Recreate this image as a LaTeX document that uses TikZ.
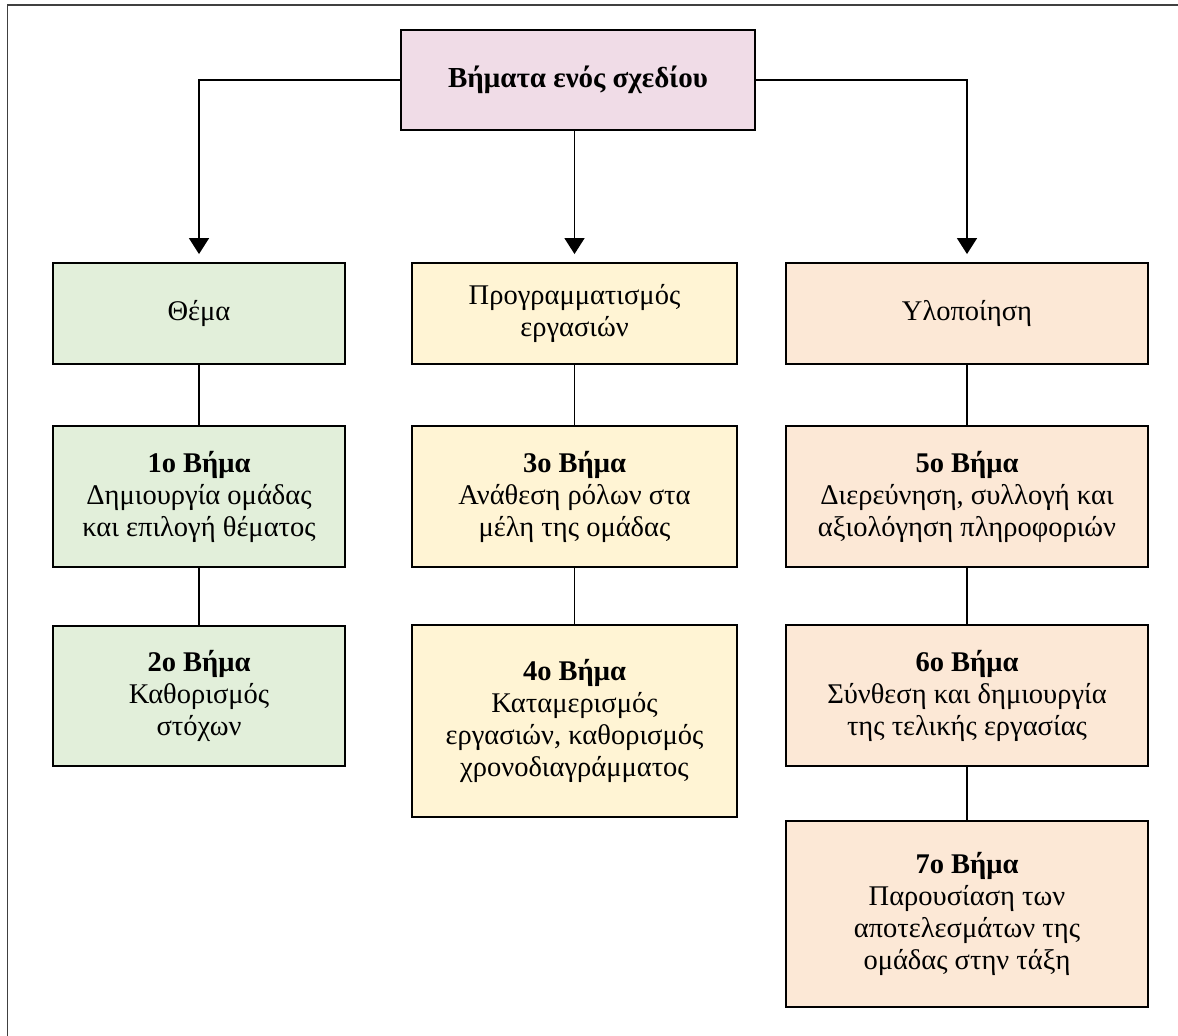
\documentclass[tikz,border=0pt]{standalone}
\usepackage{fontspec}
\setmainfont{Liberation Serif}
\usetikzlibrary{arrows.meta}
\definecolor{cpink}{HTML}{F0DCE7}
\definecolor{cgreen}{HTML}{E2EFDA}
\definecolor{cyellow}{HTML}{FFF4D4}
\definecolor{cpeach}{HTML}{FCE8D6}
\definecolor{frame}{HTML}{404040}
\tikzset{
  box/.style={draw=black, line width=1.9pt, rectangle, align=center, inner sep=2pt,
    font=\fontsize{28.5}{32}\selectfont},
  conn/.style={draw=black, line width=1.6pt},
  arr/.style={conn, -{Triangle[width=20pt,length=16pt]}, shorten >=8pt},
}
\begin{document}
\begin{tikzpicture}[x=1pt,y=-1pt]
\useasboundingbox (0,0) rectangle (1178,1036);
\clip (0,0) rectangle (1178,1036);
\fill[white] (0,0) rectangle (1178,1036);
\draw[frame, line width=1.6pt] (7.5,5) rectangle (1200,1060);
% top
\node[box, fill=cpink, minimum width=354pt, minimum height=100pt,
  font=\fontsize{29}{34}\selectfont\bfseries] (top) at (578,80) {Βήματα ενός σχεδίου};
% row 1
\node[box, fill=cgreen, minimum width=292pt, minimum height=101pt] (L1) at (199,313.5) {Θέμα};
\node[box, fill=cyellow, minimum width=325pt, minimum height=101pt] (M1) at (574.5,313.5) {Προγραμματισμός\\εργασιών};
\node[box, fill=cpeach, minimum width=362pt, minimum height=101pt] (R1) at (967,313.5) {Υλοποίηση};
% row 2
\node[box, fill=cgreen, minimum width=292pt, minimum height=141pt] (L2) at (199,496.5) {\textbf{1ο Βήμα}\\Δημιουργία ομάδας\\και επιλογή θέματος};
\node[box, fill=cyellow, minimum width=325pt, minimum height=141pt] (M2) at (574.5,496.5) {\textbf{3ο Βήμα}\\Ανάθεση ρόλων στα\\μέλη της ομάδας};
\node[box, fill=cpeach, minimum width=362pt, minimum height=141pt] (R2) at (967,496.5) {\textbf{5ο Βήμα}\\Διερεύνηση, συλλογή και\\αξιολόγηση πληροφοριών};
% row 3
\node[box, fill=cgreen, minimum width=292pt, minimum height=140pt] (L3) at (199,696) {\textbf{2ο Βήμα}\\Καθορισμός\\στόχων};
\node[box, fill=cyellow, minimum width=325pt, minimum height=192pt] (M3) at (574.5,721) {\textbf{4ο Βήμα}\\Καταμερισμός\\εργασιών, καθορισμός\\χρονοδιαγράμματος};
\node[box, fill=cpeach, minimum width=362pt, minimum height=141pt] (R3) at (967,695.5) {\textbf{6ο Βήμα}\\Σύνθεση και δημιουργία\\της τελικής εργασίας};
% row 4
\node[box, fill=cpeach, minimum width=362pt, minimum height=186pt] (R4) at (967,914) {\textbf{7ο Βήμα}\\Παρουσίαση των\\αποτελεσμάτων της\\ομάδας στην τάξη};
% connectors
\draw[arr] (top.west) -| (L1.north);
\draw[arr] (top.south -| M1.north) -- (M1.north);
\draw[arr] (top.east) -| (R1.north);
\draw[conn] (L1.south) -- (L2.north);
\draw[conn] (L2.south) -- (L3.north);
\draw[conn] (M1.south) -- (M2.north);
\draw[conn] (M2.south) -- (M3.north);
\draw[conn] (R1.south) -- (R2.north);
\draw[conn] (R2.south) -- (R3.north);
\draw[conn] (R3.south) -- (R4.north);
\end{tikzpicture}
\end{document}
